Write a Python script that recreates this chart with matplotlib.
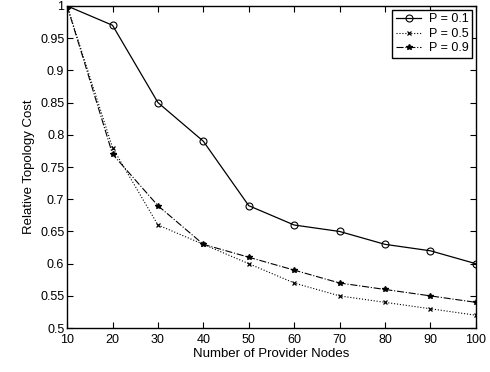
import matplotlib
matplotlib.use('Agg')
import matplotlib.pyplot as plt

plt.rcParams['font.family'] = ['Liberation Sans', 'DejaVu Sans']

# Data
nodes = [10, 20, 30, 40, 50, 60, 70, 80, 90, 100]
cost_p01 = [1.00, 0.97, 0.85, 0.79, 0.69, 0.66, 0.65, 0.63, 0.62, 0.60]
cost_p05 = [1.00, 0.78, 0.66, 0.63, 0.60, 0.57, 0.55, 0.54, 0.53, 0.52]
cost_p09 = [1.00, 0.77, 0.69, 0.63, 0.61, 0.59, 0.57, 0.56, 0.55, 0.54]

fig = plt.figure(figsize=(4.9, 3.72), dpi=100)
ax = fig.add_axes([0.137, 0.118, 0.834, 0.866])

ax.plot(nodes, cost_p01, 'k-', marker='o', markersize=5, markerfacecolor='none',
        markeredgewidth=0.8, linewidth=0.9, label='P = 0.1')
ax.plot(nodes, cost_p05, 'k:', marker='x', markersize=3, markeredgewidth=0.9,
        linewidth=0.8, label='P = 0.5')
ax.plot(nodes, cost_p09, 'k-.', marker='*', markersize=4, linewidth=0.8, label='P = 0.9')

ax.set_xlim(10, 100)
ax.set_ylim(0.5, 1.0)
ax.set_xticks(range(10, 101, 10))
ax.set_yticks([0.5, 0.55, 0.6, 0.65, 0.7, 0.75, 0.8, 0.85, 0.9, 0.95, 1.0])
ax.set_yticklabels(['0.5', '0.55', '0.6', '0.65', '0.7', '0.75', '0.8', '0.85', '0.9', '0.95', '1'])
ax.tick_params(direction='in', top=True, right=True, labelsize=9, length=4)
ax.tick_params(axis='x', pad=4)
ax.tick_params(axis='y', pad=2)
ax.set_xlabel('Number of Provider Nodes', fontsize=9.5, labelpad=2)
ax.set_ylabel('Relative Topology Cost', fontsize=9.5, labelpad=4)
for s in ax.spines.values():
    s.set_linewidth(1.0)

leg = ax.legend(loc='upper right', fontsize=9, fancybox=False, framealpha=1,
                edgecolor='black', borderaxespad=0.3, handlelength=2.0,
                borderpad=0.3, labelspacing=0.2, handletextpad=0.6)
leg.get_frame().set_linewidth(1.0)

fig.savefig('out.png', dpi=100)
